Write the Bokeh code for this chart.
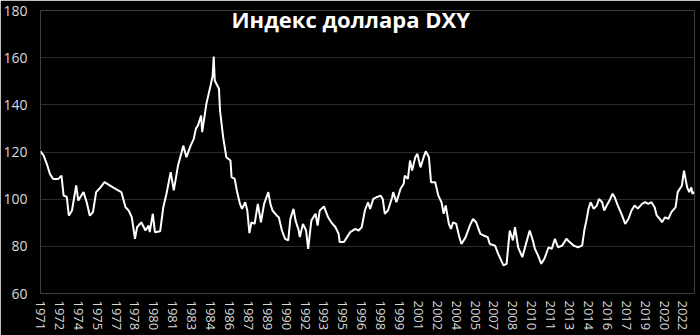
from bokeh.plotting import figure
from bokeh.models import ColumnDataSource, Label, FixedTicker
from bokeh.embed import file_html
from bokeh.resources import INLINE

# months since January 1971 and index values
months = [0, 3, 6, 9, 12, 17, 20, 22, 25, 27, 30, 34, 36, 41, 44, 47, 50, 53, 56, 61,
          69, 74, 77, 81, 84, 87, 90, 92, 96, 100, 103, 104, 107, 109, 114, 117, 120, 124, 127, 131,
          134, 136, 139, 143, 146, 148, 150, 153, 154, 158, 162, 164, 165, 166, 170, 171, 174, 177, 181, 182,
          185, 187, 190, 192, 195, 197, 199, 201, 204, 207, 210, 213, 217, 219, 221, 225, 227, 230, 233, 236,
          238, 241, 243, 246, 247, 250, 253, 255, 258, 262, 264, 266, 270, 274, 277, 281, 284, 285, 289, 292,
          295, 300, 303, 306, 309, 312, 314, 317, 320, 324, 326, 328, 331, 335, 336, 339, 343, 346, 347, 350,
          352, 354, 357, 359, 362, 365, 367, 370, 372, 376, 379, 382, 384, 386, 389, 391, 393, 396, 399, 401,
          405, 409, 412, 415, 419, 422, 426, 428, 433, 436, 441, 444, 447, 450, 452, 455, 459, 462, 466, 469,
          471, 474, 477, 480, 484, 487, 490, 493, 497, 501, 504, 508, 512, 516, 518, 520, 522, 524, 527, 530,
          532, 535, 537, 539, 542, 545, 547, 550, 552, 554, 557, 560, 563, 566, 569, 573, 576, 579, 582, 585,
          587, 590, 592, 595, 598, 601, 605, 607, 611, 613, 616, 618, 620, 621, 623]
dxy = [120.3, 118.5, 115.0, 110.7, 108.6, 108.6, 110.0, 101.5, 101.0, 93.0, 95.2, 105.8, 99.4, 103.0, 98.7, 93.0, 94.5, 103.0, 104.4, 107.2,
       105.0, 103.7, 103.0, 96.6, 95.2, 92.3, 83.2, 88.1, 90.2, 86.7, 88.8, 86.0, 93.8, 86.0, 86.4, 96.6, 102.3, 111.4, 103.7, 114.3,
       119.2, 122.7, 117.8, 122.7, 125.6, 129.8, 131.2, 135.5, 128.4, 140.4, 148.2, 152.4, 160.5, 150.3, 146.8, 137.6, 126.3, 117.8, 116.4, 109.3,
       108.6, 103.7, 98.0, 95.9, 98.7, 95.2, 85.6, 90.2, 89.5, 98.0, 90.2, 98.0, 103.0, 98.0, 95.2, 93.1, 92.3, 86.7, 83.2, 82.5,
       91.6, 95.9, 90.9, 86.7, 83.9, 89.5, 86.7, 78.9, 90.9, 93.8, 88.8, 95.2, 96.9, 92.3, 90.2, 88.1, 85.3, 81.8, 81.8, 83.9,
       86.0, 87.4, 86.7, 88.1, 95.2, 98.7, 95.9, 100.1, 100.8, 101.5, 100.1, 93.8, 95.2, 100.8, 103.0, 98.7, 104.4, 106.5, 110.0, 108.6,
       116.4, 112.1, 117.8, 119.2, 113.5, 117.8, 120.3, 117.8, 107.2, 107.2, 101.5, 98.7, 93.8, 97.3, 89.5, 87.4, 90.2, 89.5, 83.9, 81.0,
       83.9, 88.8, 91.6, 90.2, 85.3, 84.6, 83.9, 81.0, 80.3, 76.8, 71.9, 72.6, 86.7, 82.5, 88.1, 79.6, 75.4, 80.3, 86.7, 82.5,
       78.9, 76.1, 72.6, 74.7, 79.6, 78.9, 83.2, 79.6, 80.3, 83.2, 81.8, 80.3, 79.6, 80.3, 86.7, 90.9, 95.9, 98.7, 95.9, 97.3,
       100.1, 98.7, 95.2, 97.0, 99.4, 102.3, 100.8, 97.3, 95.2, 93.1, 89.5, 91.6, 95.2, 97.3, 96.0, 98.0, 98.7, 98.0, 98.7, 96.6,
       93.1, 91.6, 90.2, 92.3, 91.6, 94.5, 96.6, 103.0, 105.8, 112.1, 105.0, 103.0, 105.0, 102.3, 103.0]

tick_years = [1971, 1972, 1974, 1975, 1977, 1978, 1980, 1981, 1983, 1984, 1986, 1987,
              1989, 1990, 1992, 1993, 1995, 1996, 1998, 1999, 2001, 2002, 2004, 2005,
              2007, 2008, 2010, 2011, 2013, 2014, 2016, 2017, 2019, 2020, 2022]
y_ticks = [60, 80, 100, 120, 140, 160, 180]
title_text = "Индекс доллара DXY"

FONT = "Open Sans"

p = figure(width=700, height=335, output_backend="svg", toolbar_location=None,
           x_range=(0, 623), y_range=(60, 180),
           background_fill_color="black", border_fill_color="black",
           min_border_left=39, min_border_right=6, min_border_top=10, min_border_bottom=42)
p.outline_line_color = None

src = ColumnDataSource(dict(x=months, y=dxy))
p.line("x", "y", source=src, line_color="white", line_width=2)

tick_pos = [i * 18 for i in range(len(tick_years))]
p.xaxis.ticker = FixedTicker(ticks=tick_pos)
p.xaxis.major_label_overrides = {t: str(y) for t, y in zip(tick_pos, tick_years)}
p.xaxis.major_label_orientation = "vertical"
p.yaxis.ticker = FixedTicker(ticks=y_ticks)

for ax in (p.xaxis, p.yaxis):
    ax.axis_line_color = None
    ax.major_tick_line_color = None
    ax.minor_tick_line_color = None
    ax.major_tick_out = 0
    ax.major_tick_in = 0
    ax.minor_tick_out = 0
    ax.major_label_text_color = "#d9d9d9"
    ax.major_label_text_font = FONT
    ax.major_label_text_font_size = "14px"
p.xaxis.major_label_text_font_size = "13px"
p.xaxis.major_label_standoff = 7
p.yaxis.major_label_standoff = 13

p.xgrid.grid_line_color = None
p.ygrid.grid_line_color = "#2b2b2b"
p.ygrid.grid_line_width = 1

title = Label(x=295.5, y=176.6, text=title_text, text_color="white",
              text_font=FONT, text_font_style="bold", text_font_size="22px",
              text_align="center", text_baseline="middle")
p.add_layout(title)

open("out.html", "w").write(file_html(p, INLINE))
